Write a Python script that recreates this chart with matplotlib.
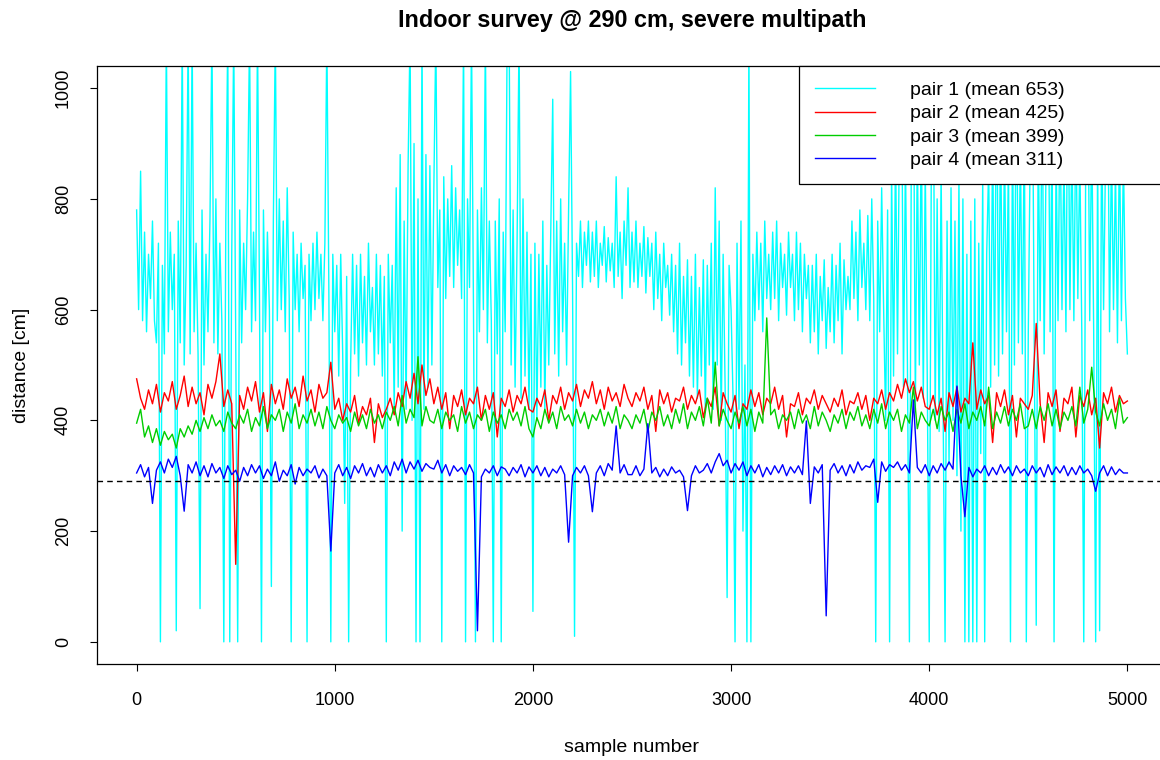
import numpy as np
import matplotlib
matplotlib.use('Agg')
import matplotlib.pyplot as plt

plt.rcParams['font.family'] = ['Liberation Sans', 'DejaVu Sans']

# sample numbers (pair 1 read every 10 samples, the others every 20)
x_pair1 = np.arange(0, 5001, 10)
x_other = np.arange(0, 5001, 20)

# distances in cm, one row per 100 samples
pair1 = [780, 600, 850, 580, 740, 560, 700, 620, 760, 580,
         540, 720, 0, 680, 520, 1100, 560, 740, 600, 700,
         20, 760, 540, 1100, 500, 680, 1100, 520, 1100, 560,
         720, 520, 60, 780, 500, 700, 560, 760, 1100, 540,
         800, 520, 720, 580, 0, 760, 1100, 0, 700, 1100,
         560, 0, 780, 540, 720, 600, 800, 1100, 560, 740,
         580, 1100, 620, 0, 780, 560, 740, 600, 100, 760,
         1100, 580, 800, 600, 760, 560, 820, 620, 0, 740,
         600, 700, 560, 720, 620, 680, 0, 700, 580, 720,
         600, 740, 620, 700, 580, 720, 1100, 640, 0, 700,
         560, 680, 480, 700, 520, 250, 660, 0, 500, 700,
         520, 680, 480, 700, 540, 660, 500, 720, 560, 640,
         500, 700, 520, 680, 480, 660, 0, 700, 540, 680,
         420, 820, 460, 880, 200, 760, 420, 860, 1100, 400,
         900, 0, 800, 0, 1100, 420, 880, 460, 860, 500,
         820, 1100, 640, 780, 0, 840, 620, 800, 660, 860,
         640, 820, 680, 780, 620, 1100, 0, 800, 640, 1100,
         600, 0, 780, 560, 820, 600, 1100, 540, 760, 580,
         0, 760, 520, 800, 0, 740, 560, 1100, 1100, 500,
         780, 460, 720, 1100, 440, 800, 480, 740, 420, 700,
         55, 720, 400, 700, 460, 760, 420, 680, 500, 740,
         980, 520, 760, 480, 800, 560, 720, 500, 780, 1030,
         640, 10, 720, 660, 760, 640, 740, 680, 760, 650,
         740, 660, 760, 640, 720, 680, 750, 650, 730, 670,
         720, 640, 840, 660, 740, 620, 760, 680, 820, 640,
         740, 650, 760, 640, 720, 660, 750, 630, 730, 660,
         720, 600, 740, 620, 700, 580, 720, 640, 680, 590,
         700, 560, 680, 520, 720, 500, 660, 540, 690, 480,
         660, 460, 700, 440, 640, 480, 690, 420, 680, 500,
         720, 420, 820, 500, 760, 400, 700, 460, 80, 680,
         600, 440, 0, 720, 420, 760, 200, 500, 0, 1100,
         0, 700, 580, 740, 600, 720, 560, 760, 620, 700,
         600, 740, 620, 760, 580, 720, 640, 700, 590, 740,
         640, 700, 580, 740, 600, 720, 560, 700, 620, 680,
         540, 680, 560, 700, 520, 660, 580, 690, 530, 640,
         560, 700, 540, 680, 580, 720, 520, 690, 600, 660,
         600, 760, 620, 740, 580, 780, 640, 720, 600, 770,
         580, 800, 620, 0, 760, 560, 820, 600, 400, 780,
         0, 860, 480, 900, 520, 950, 1100, 460, 880, 500,
         0, 920, 1100, 420, 900, 500, 950, 440, 860, 480,
         0, 820, 1100, 400, 800, 380, 850, 420, 0, 760,
         320, 820, 400, 760, 300, 840, 200, 800, 0, 700,
         0, 760, 0, 800, 0, 720, 340, 840, 0, 700,
         860, 460, 920, 500, 1100, 480, 950, 520, 900, 560,
         880, 0, 940, 500, 1100, 540, 900, 520, 960, 0,
         560, 900, 1100, 540, 30, 920, 580, 1000, 520, 880,
         1100, 560, 940, 0, 900, 580, 980, 600, 880, 560,
         1100, 600, 920, 580, 960, 620, 880, 560, 0, 900,
         1100, 580, 940, 560, 0, 900, 20, 960, 600, 880,
         1100, 560, 900, 600, 860, 540, 920, 580, 880, 620,
         520]

# one row per 500 samples
pair2 = [475, 440, 420, 455, 430, 465, 415, 450, 435, 470, 420, 445, 480, 425, 460, 430, 450, 410, 465, 440, 470, 520, 425, 455, 430,
         140, 445, 420, 460, 435, 470, 415, 450, 380, 465, 430, 455, 420, 475, 440, 460, 425, 480, 435, 455, 415, 465, 440, 450, 505,
         420, 440, 400, 430, 415, 445, 395, 425, 410, 440, 360, 430, 405, 420, 440, 410, 450, 425, 470, 440, 485, 430, 500, 445, 475,
         430, 460, 420, 450, 385, 445, 425, 455, 410, 440, 430, 460, 400, 445, 420, 450, 370, 440, 425, 455, 415, 445, 430, 460, 420,
         415, 440, 425, 455, 400, 445, 430, 460, 420, 450, 435, 465, 425, 455, 440, 470, 430, 455, 420, 460, 435, 450, 425, 465, 440,
         425, 450, 435, 460, 420, 445, 380, 455, 430, 450, 415, 440, 435, 460, 420, 445, 430, 455, 405, 440, 425, 460, 390, 450, 430,
         415, 445, 385, 430, 420, 455, 425, 450, 410, 440, 430, 460, 420, 445, 370, 430, 425, 450, 410, 440, 430, 455, 420, 445, 430,
         415, 440, 425, 455, 410, 435, 430, 450, 420, 445, 400, 440, 430, 455, 420, 450, 435, 465, 440, 475, 450, 470, 435, 460, 425,
         420, 445, 410, 440, 380, 450, 425, 460, 415, 440, 430, 540, 420, 455, 430, 445, 360, 450, 425, 455, 410, 445, 370, 440, 430,
         420, 445, 575, 430, 360, 450, 425, 455, 380, 440, 430, 460, 370, 445, 425, 455, 410, 440, 350, 450, 430, 460, 415, 445, 430,
         435]

pair3 = [395, 420, 370, 390, 360, 385, 355, 380, 365, 375, 350, 385, 370, 390, 375, 400, 380, 405, 385, 410, 390, 400, 380, 415, 395,
         385, 410, 395, 420, 380, 405, 390, 425, 385, 410, 400, 420, 380, 415, 395, 430, 385, 410, 395, 420, 390, 415, 385, 425, 400,
         385, 410, 395, 405, 380, 415, 390, 410, 385, 420, 395, 410, 385, 415, 400, 425, 390, 445, 395, 420, 405, 515, 390, 425, 400,
         395, 420, 385, 415, 400, 410, 380, 425, 395, 415, 385, 410, 400, 420, 380, 415, 395, 410, 385, 420, 400, 415, 390, 425, 385,
         370, 405, 385, 420, 395, 415, 385, 425, 400, 410, 390, 420, 395, 415, 385, 410, 400, 420, 390, 415, 395, 425, 385, 410, 400,
         385, 410, 395, 420, 380, 415, 400, 425, 390, 410, 385, 420, 395, 430, 385, 415, 400, 425, 390, 440, 395, 505, 390, 420, 400,
         385, 415, 395, 425, 390, 420, 380, 415, 395, 585, 410, 420, 385, 410, 400, 415, 385, 420, 395, 410, 385, 425, 390, 415, 400,
         380, 410, 395, 420, 385, 415, 400, 425, 390, 410, 385, 420, 395, 430, 385, 415, 400, 420, 380, 410, 395, 460, 385, 415, 400,
         390, 420, 385, 425, 400, 415, 380, 420, 395, 430, 385, 415, 400, 425, 390, 460, 385, 415, 395, 425, 390, 420, 400, 430, 385,
         390, 420, 385, 425, 400, 430, 390, 420, 385, 415, 400, 425, 390, 460, 395, 420, 496, 415, 390, 430, 400, 420, 385, 440, 395,
         405]

pair4 = [305, 320, 298, 315, 250, 310, 325, 305, 330, 315, 335, 300, 236, 320, 305, 325, 300, 318, 298, 322, 305, 315, 295, 318, 302,
         310, 290, 315, 300, 320, 305, 318, 295, 312, 300, 325, 290, 310, 300, 320, 285, 315, 300, 312, 305, 318, 296, 312, 300, 164,
         305, 320, 300, 315, 295, 318, 305, 322, 300, 315, 298, 320, 305, 318, 300, 325, 310, 330, 305, 325, 312, 328, 308, 322, 315,
         312, 328, 305, 320, 300, 318, 308, 315, 302, 320, 305, 20, 298, 312, 305, 318, 300, 316, 312, 300, 315, 305, 320, 298, 316,
         305, 318, 300, 315, 298, 312, 305, 318, 302, 180, 300, 315, 305, 318, 300, 235, 305, 318, 300, 322, 310, 390, 305, 320, 302,
         302, 318, 300, 312, 394, 305, 315, 298, 312, 300, 316, 305, 310, 298, 237, 300, 318, 305, 310, 322, 305, 325, 340, 318, 328,
         305, 322, 310, 325, 300, 318, 305, 320, 298, 315, 302, 318, 305, 320, 300, 316, 305, 318, 302, 399, 250, 316, 305, 320, 47,
         310, 322, 305, 318, 300, 320, 305, 325, 310, 318, 315, 330, 252, 325, 308, 320, 315, 325, 310, 320, 305, 437, 315, 305, 320,
         300, 318, 305, 322, 310, 325, 312, 462, 300, 226, 315, 298, 312, 305, 318, 300, 315, 302, 320, 305, 316, 300, 318, 305, 312,
         300, 318, 305, 315, 298, 320, 302, 316, 305, 318, 300, 315, 302, 318, 305, 312, 300, 272, 305, 318, 300, 316, 302, 312, 305,
         305]

labels = ['pair 1 (mean 653)', 'pair 2 (mean 425)', 'pair 3 (mean 399)', 'pair 4 (mean 311)']
colors = ['#00FFFF', '#FF0000', '#00CD00', '#0000FF']
true_dist = 290

fig = plt.figure(figsize=(11.6, 7.6), dpi=100)
ax = fig.add_axes([97 / 1160, 1 - 664 / 760, 1070 / 1160, 598 / 760])

ax.plot(x_pair1, pair1, color=colors[0], lw=1.0, label=labels[0])
ax.plot(x_other, pair2, color=colors[1], lw=1.0, label=labels[1])
ax.plot(x_other, pair3, color=colors[2], lw=1.0, label=labels[2])
ax.plot(x_other, pair4, color=colors[3], lw=1.0, label=labels[3])
ax.axhline(true_dist, color='black', lw=1.0, linestyle=(0, (4, 3)))

ax.set_xlim(-200, 5200)
ax.set_ylim(-40, 1040)
ax.set_xticks(range(0, 5001, 1000))
ax.set_yticks(range(0, 1001, 200))
ax.tick_params(axis='both', direction='out', length=5, width=0.8, labelsize=13)
ax.tick_params(axis='x', pad=15)
ax.tick_params(axis='y', pad=13)
for t in ax.get_yticklabels():
    t.set_rotation(90)
    t.set_va('center')
for s in ax.spines.values():
    s.set_linewidth(0.9)

ax.set_xlabel('sample number', fontsize=14, labelpad=22)
ax.set_ylabel('distance [cm]', fontsize=14, labelpad=18)
ax.set_title('Indoor survey @ 290 cm, severe multipath', fontsize=16.8, fontweight='bold', pad=28)

leg = ax.legend(loc='upper left', bbox_to_anchor=((799 - 97) / 1070, 0, 368 / 1070, 1.0), mode='expand',
                borderaxespad=0, fontsize=14, frameon=True, fancybox=False, framealpha=1,
                edgecolor='black', borderpad=0.8, labelspacing=0.29, handlelength=3.1, handletextpad=1.8)
leg.get_frame().set_linewidth(0.9)

plt.savefig('out.png', dpi=100)
